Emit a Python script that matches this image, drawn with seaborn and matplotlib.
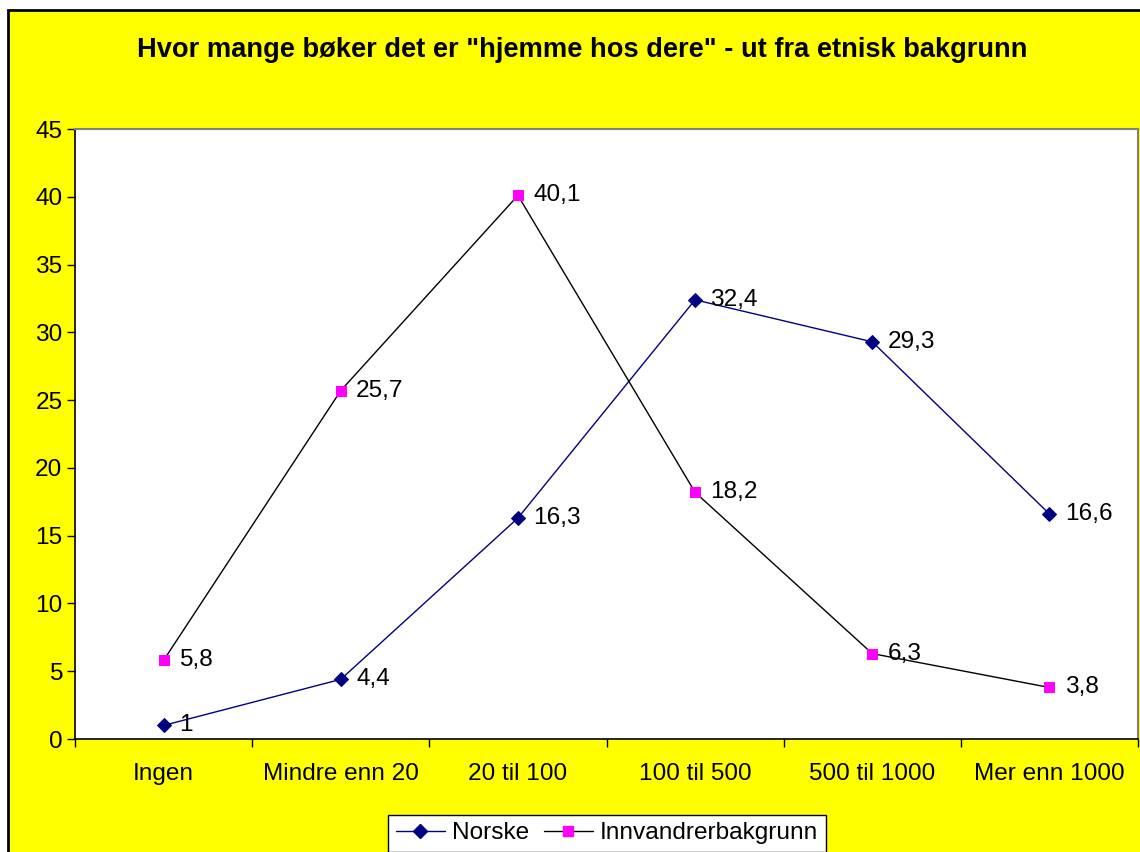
import matplotlib
matplotlib.use("Agg")
import matplotlib.pyplot as plt
import matplotlib.patches as patches
from matplotlib.lines import Line2D
import numpy as np
import pandas as pd
import seaborn as sns

# data
categories = ["Ingen", "Mindre enn 20", "20 til 100", "100 til 500", "500 til 1000", "Mer enn 1000"]
norske = [1, 4.4, 16.3, 32.4, 29.3, 16.6]
innvandrer = [5.8, 25.7, 40.1, 18.2, 6.3, 3.8]
norske_labels = ["1", "4,4", "16,3", "32,4", "29,3", "16,6"]
innvandrer_labels = ["5,8", "25,7", "40,1", "18,2", "6,3", "3,8"]

sns.set_theme(style="white")
plt.rcParams["font.family"] = ["Liberation Sans", "DejaVu Sans"]
plt.rcParams["text.color"] = "black"
plt.rcParams["xtick.color"] = "black"
plt.rcParams["ytick.color"] = "black"
plt.rcParams["axes.labelcolor"] = "black"

df = pd.DataFrame({"pos": np.arange(len(categories)), "Norske": norske, "Innvandrerbakgrunn": innvandrer})

fig = plt.figure(figsize=(11.4, 8.52), dpi=100, facecolor="white")

# yellow chart area with border
bg = patches.Rectangle((8 / 1140, -0.05), 1.1, 1 - 10 / 852 + 0.05, transform=fig.transFigure,
                       facecolor="#FFFF00", edgecolor="black", linewidth=2, zorder=-1)
fig.patches.append(bg)

ax = fig.add_axes([75 / 1140, 1 - 739 / 852, (1138 - 75) / 1140, (739 - 129) / 852])
ax.set_facecolor("white")

navy = "#000080"
magenta = "#FF00FF"
fs = 17.6

sns.lineplot(data=df, x="pos", y="Norske", ax=ax, color=navy, linewidth=1.0,
             marker="D", markersize=7, markerfacecolor=navy, markeredgecolor=navy, zorder=3)
sns.lineplot(data=df, x="pos", y="Innvandrerbakgrunn", ax=ax, color="black", linewidth=1.0,
             marker="s", markersize=7, markerfacecolor=magenta, markeredgecolor=magenta, zorder=3)

# data labels
for x, y, t in zip(df["pos"], norske, norske_labels):
    ax.annotate(t, (x, y), xytext=(11, 0), textcoords="offset points", ha="left", va="center",
                fontsize=fs, color="black")
for x, y, t in zip(df["pos"], innvandrer, innvandrer_labels):
    ax.annotate(t, (x, y), xytext=(11, 0), textcoords="offset points", ha="left", va="center",
                fontsize=fs, color="black")

ax.set_xlim(-0.5, 5.5)
ax.set_ylim(0, 45)
ax.set_yticks(np.arange(0, 46, 5))
ax.set_xticks(df["pos"])
ax.set_xticklabels(categories)
ax.set_xticks(np.arange(-0.5, 6, 1), minor=True)
ax.set_xlabel("")
ax.set_ylabel("")

ax.tick_params(axis="y", which="major", direction="out", length=6, width=1, color="black",
               labelcolor="black", labelsize=fs, pad=3, left=True)
ax.tick_params(axis="x", which="major", length=0, labelsize=fs, labelcolor="black", pad=17)
ax.tick_params(axis="x", which="minor", direction="out", length=6, width=1, color="black", bottom=True)

for side in ["left", "bottom"]:
    ax.spines[side].set_color("black")
    ax.spines[side].set_linewidth(1.2)
for side in ["top", "right"]:
    ax.spines[side].set_color("#808080")
    ax.spines[side].set_linewidth(1.5)

fig.text(582 / 1140, 1 - 50 / 852, "Hvor mange bøker det er \"hjemme hos dere\" - ut fra etnisk bakgrunn",
         ha="center", va="center", fontsize=19.6, fontweight="bold", color="black")

handles = [
    Line2D([0], [0], color=navy, linewidth=1.0, marker="D", markersize=7, markerfacecolor=navy, markeredgecolor=navy),
    Line2D([0], [0], color="black", linewidth=1.0, marker="s", markersize=7, markerfacecolor=magenta, markeredgecolor=magenta),
]
leg = fig.legend(handles, ["Norske", "Innvandrerbakgrunn"], loc="upper center",
                 bbox_to_anchor=(607 / 1140, 1 - 815 / 852), ncol=2, fontsize=fs,
                 frameon=True, fancybox=False, edgecolor="black", framealpha=1,
                 handlelength=2.0, handletextpad=0.3, columnspacing=0.6, borderpad=0.3,
                 borderaxespad=0)
leg.get_frame().set_linewidth(1.0)
for t in leg.get_texts():
    t.set_color("black")

fig.savefig("out.png", dpi=100, facecolor=fig.get_facecolor())
